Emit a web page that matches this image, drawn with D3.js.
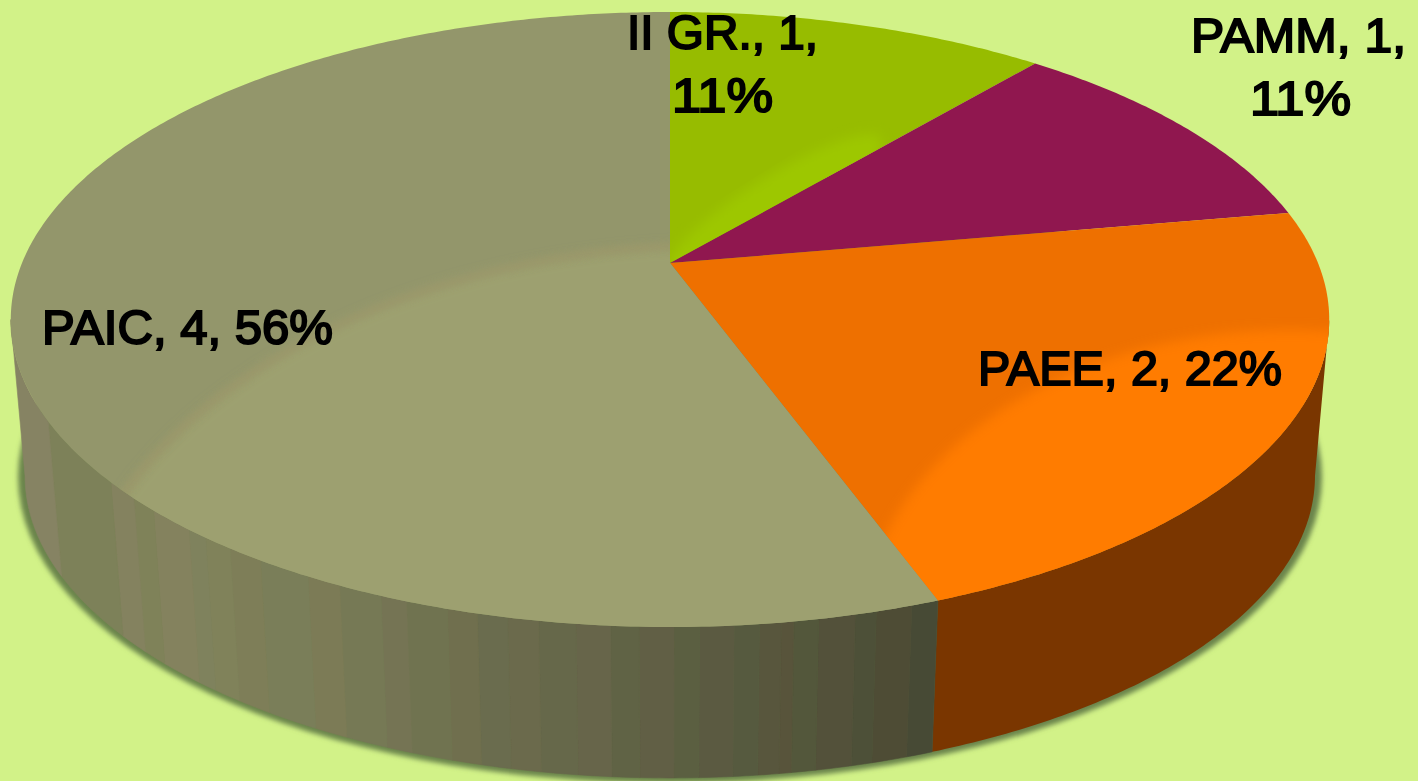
<!DOCTYPE html>
<html>
<head>
<meta charset="utf-8">
<style>
    html, body { margin: 0; padding: 0; background: #d2f288; overflow: hidden; }
    svg { display: block; }
    text { font-family: "Liberation Sans", Arial, sans-serif; font-size: 49px; fill: #000; stroke: #000; stroke-width: 2px; }
</style>
<script src="https://cdnjs.cloudflare.com/ajax/libs/d3/7.8.5/d3.min.js"></script>
</head>
<body>
<svg width="1418" height="781"></svg>
<script>
var categories = ["II GR.", "PAMM", "PAEE", "PAIC"];
var labelCounts = [1, 1, 2, 4];
var percentLabels = ["11%", "11%", "22%", "56%"];
var sliceWeights = [1, 1, 2, 5];   // the drawn PAIC slice is 5/9, whatever its label says

var topColors = ["#97bc00", "#90174f", "#ee7000", "#93966b"];
var lightColors = ["#9dc700", null, "#ff7c00", "#9da070"];

// shading of the faceted PAIC wall, left to right
var wallBreaks = [55, 118, 140, 160, 195, 212, 237, 265, 312, 345, 385, 412, 450, 480, 510, 540, 578, 613, 642, 675, 702, 735, 760, 782, 795, 818, 855, 875, 912];
var wallShades = ["#868363", "#7d8159", "#84825f", "#7f8259", "#84825e", "#7f825d", "#80825a", "#7e7e58", "#7a7e59", "#7c7b56",
    "#767955", "#757454", "#707350", "#706f4e", "#6a6c4e", "#6b6a4c", "#66684a", "#67654a", "#606345", "#615f45",
    "#5b5f41", "#5b5a41", "#565a3f", "#58563d", "#58543b", "#53573b", "#53513a", "#4d5038", "#4e4c35", "#474a35"];

var svg = d3.select("svg"),
    defs = svg.append("defs");

var tilt = -0.1837,
    topDisc = {cx: 670, a: 248.8, b: 263, rx: 648},
    bottomDisc = {cx: 670, a: 214.5, b: 420.5, rx: 634};

// angle where the disc is widest on screen, the wall's outline starts there
var rightEdge = Math.acos(tilt),
    leftEdge = 2 * Math.PI - rightEdge;

// perspective view of the unit circle, angle clockwise from 12 o'clock
function project(disc, angle, r) {
    var u = r * Math.sin(angle),
        v = -r * Math.cos(angle),
        w = 1 + tilt * v;
    return [disc.cx + disc.rx * u / w, (disc.a * v + disc.b) / w];
}

function arcPoints(disc, start, end) {
    var n = Math.max(2, Math.ceil((end - start) / 0.01)),
        pts = [];
    d3.range(n + 1).forEach(function (i) {
        pts.push(project(disc, start + (end - start) * i / n, 1));
    });
    return pts;
}

var line = d3.line();
var wallShade = d3.scaleThreshold().domain(wallBreaks).range(wallShades);

var slices = d3.pie().sort(null)(sliceWeights);

function wallPath(start, end) {
    return line(arcPoints(topDisc, start, end).concat(arcPoints(bottomDisc, start, end).reverse())) + "Z";
}

function blur(id, dev) {
    defs.append("filter").attr("id", id)
        .attr("x", "-10%").attr("y", "-10%").attr("width", "120%").attr("height", "120%")
        .append("feGaussianBlur").attr("stdDeviation", dev);
}
blur("shadowBlur", 2.5);
blur("softEdge", 6);
blur("softBand", 3);

// shadow under the wall
svg.append("ellipse")
    .attr("cx", 670).attr("cy", 477)
    .attr("rx", 652).attr("ry", 306)
    .attr("fill", "#6b844c")
    .attr("filter", "url(#shadowBlur)");

// orange wall
svg.append("path")
    .attr("d", wallPath(rightEdge, slices[2].endAngle))
    .attr("fill", "#7a3600");

// PAIC wall, one polygon per run of equal shade
var wallStep = 0.004,
    runs = [],
    current = null;
d3.range(slices[3].startAngle, leftEdge, wallStep).forEach(function (angle) {
    var midX = (project(topDisc, angle, 1)[0] + project(bottomDisc, angle, 1)[0]) / 2,
        shade = wallShade(midX);
    if (!current || current.shade !== shade) {
        current = {shade: shade, start: angle};
        runs.push(current);
    }
    current.end = Math.min(angle + wallStep, leftEdge);
});
svg.append("g").selectAll("path").data(runs).enter().append("path")
    .attr("d", function (d) { return wallPath(d.start, d.end); })
    .attr("fill", function (d) { return d.shade; })
    .attr("stroke", function (d) { return d.shade; })
    .attr("stroke-width", 0.6);

// top face
var sliceOutline = function (d) {
    return line([project(topDisc, 0, 0)].concat(arcPoints(topDisc, d.startAngle, d.endAngle))) + "Z";
};

defs.selectAll("clipPath").data(slices).enter().append("clipPath")
    .attr("id", function (d, i) { return "sliceClip" + i; })
    .append("path").attr("d", sliceOutline);

svg.append("g").selectAll("path").data(slices).enter().append("path")
    .attr("d", sliceOutline)
    .attr("fill", function (d, i) { return topColors[i]; });

// lighter sheen on three of the slices
var sheens = [
    {slice: 0, cx: 775, cy: 205, rx: 125, ry: 28, rot: -32},
    {slice: 2, cx: 1290, cy: 640, rx: 430, ry: 310, rot: 0},
    {slice: 3, cx: 720, cy: 680, rx: 660, ry: 435, rot: 0}
];
var sheen = svg.append("g").selectAll("g").data(sheens).enter().append("g")
    .attr("clip-path", function (d) { return "url(#sliceClip" + d.slice + ")"; });
sheen.append("ellipse")
    .attr("cx", function (d) { return d.cx; }).attr("cy", function (d) { return d.cy; })
    .attr("rx", function (d) { return d.rx; }).attr("ry", function (d) { return d.ry; })
    .attr("transform", function (d) { return "rotate(" + d.rot + " " + d.cx + " " + d.cy + ")"; })
    .attr("fill", function (d) { return lightColors[d.slice]; })
    .attr("filter", "url(#softEdge)");
svg.append("g").attr("clip-path", "url(#sliceClip3)").append("ellipse")
    .datum(sheens[2])
    .attr("cx", function (d) { return d.cx; }).attr("cy", function (d) { return d.cy; })
    .attr("rx", function (d) { return d.rx; }).attr("ry", function (d) { return d.ry; })
    .attr("fill", "none")
    .attr("stroke", "#9c9669")
    .attr("stroke-width", 7)
    .attr("opacity", 0.7)
    .attr("filter", "url(#softBand)");

// labels, same order as categories
var labelLayout = [
    [{x: 627, y: 49, w: 191}, {x: 672, y: 112, w: 101}],
    [{x: 1191, y: 52, w: 215}, {x: 1250, y: 115, w: 101}],
    [{x: 978, y: 385, w: 304}],
    [{x: 42, y: 344, w: 291}]
];

categories.forEach(function (name, i) {
    var head = name + ", " + labelCounts[i] + ",",
        lines = labelLayout[i].length > 1 ? [head, percentLabels[i]] : [head + " " + percentLabels[i]];
    lines.forEach(function (txt, j) {
        var pos = labelLayout[i][j];
        svg.append("text")
            .attr("x", pos.x).attr("y", pos.y)
            .attr("textLength", pos.w)
            .attr("lengthAdjust", "spacingAndGlyphs")
            .text(txt);
    });
});
</script>
</body>
</html>
